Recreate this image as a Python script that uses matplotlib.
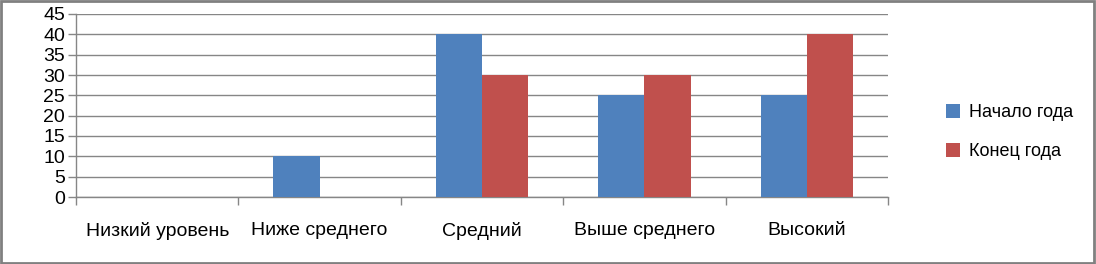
import numpy as np
import matplotlib.pyplot as plt
from matplotlib.patches import Rectangle
from matplotlib.ticker import FixedLocator

categories = ["Низкий уровень", "Ниже среднего", "Средний", "Выше среднего", "Высокий"]
start_year = [0, 10, 40, 25, 25]
end_year = [0, 0, 30, 30, 40]
series_names = ["Начало года", "Конец года"]
y_ticks = [0, 5, 10, 15, 20, 25, 30, 35, 40, 45]

plt.rcParams['font.family'] = ['Liberation Sans', 'DejaVu Sans']

fig = plt.figure(figsize=(10.96, 2.64), dpi=100)
ax = fig.add_axes([76 / 1096, 1 - 197 / 264, (888 - 76) / 1096, (197 - 14) / 264])

x = np.arange(len(categories))
w = 0.285
ax.bar(x - w / 2, start_year, w, color="#4F81BD", label=series_names[0], zorder=3)
ax.bar(x + w / 2, end_year, w, color="#C0504D", label=series_names[1], zorder=3)

ax.set_xlim(-0.5, len(categories) - 0.5)
ax.set_ylim(0, 45)
ax.set_yticks(y_ticks)
ax.yaxis.grid(True, color="#868686", linewidth=1.0, zorder=0)

ax.set_xticks(x)
ax.set_xticklabels(categories, fontsize=14)
ax.tick_params(axis="x", which="major", length=0, pad=18)
ax.xaxis.set_minor_locator(FixedLocator(np.arange(-0.5, len(categories), 1.0)))
ax.tick_params(axis="x", which="minor", length=6, color="#868686", width=1)
ax.tick_params(axis="y", length=6, color="#868686", width=1, labelsize=14, pad=2)

for side in ["top", "right"]:
    ax.spines[side].set_visible(False)
for side in ["left", "bottom"]:
    ax.spines[side].set_color("#868686")
    ax.spines[side].set_linewidth(1.0)

ax.legend(loc="center left", bbox_to_anchor=(946 / 1096, 0.5), bbox_transform=fig.transFigure,
          frameon=False, fontsize=13, borderpad=0, borderaxespad=0,
          handlelength=0.8, handleheight=0.8, handletextpad=0.45, labelspacing=1.2)

fig.patches.append(Rectangle((0.001, 0.002), 0.997, 0.995, transform=fig.transFigure,
                             fill=False, edgecolor="#808080", linewidth=2))

fig.savefig("out.png", dpi=100)
